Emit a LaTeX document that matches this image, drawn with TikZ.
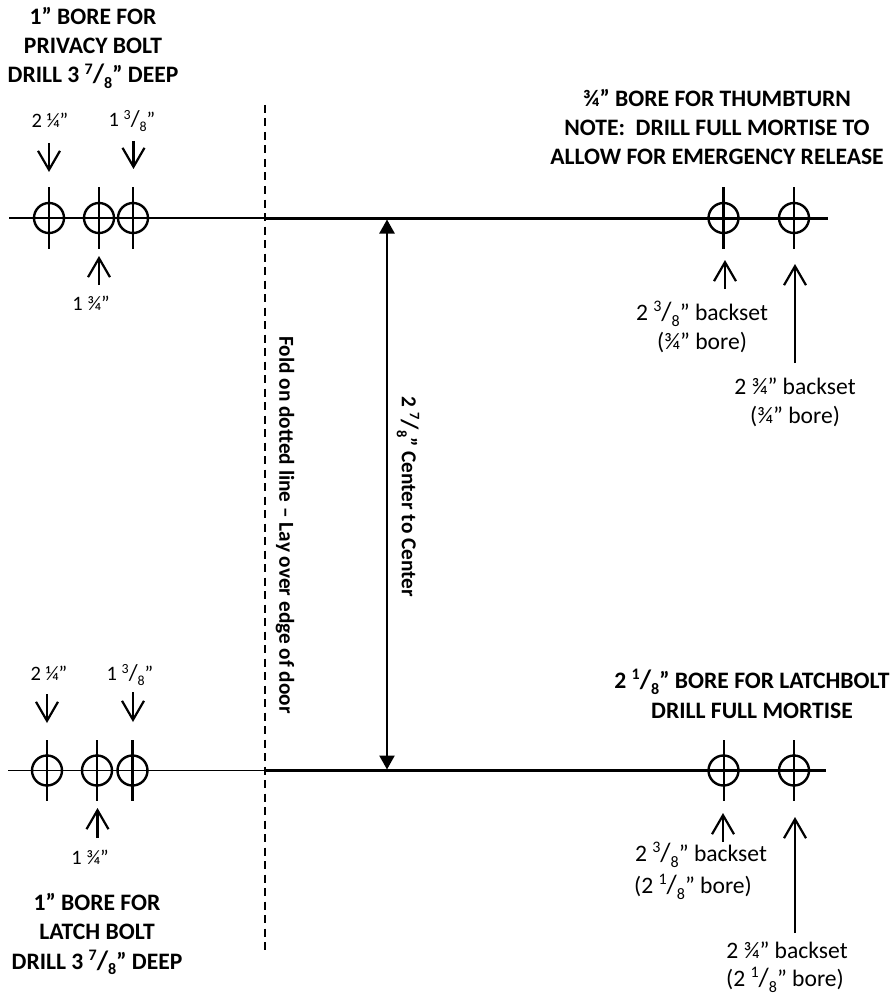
\documentclass[tikz,border=0pt]{standalone}
\usepackage{fontspec}
\usepackage{graphicx}
\setmainfont{Carlito}
\usetikzlibrary{arrows.meta}
\newcommand{\fr}[2]{\raisebox{.38em}{\scalebox{.68}{#1}}\scalebox{1.12}{/}\raisebox{-.24em}{\scalebox{.68}{#2}}}
\newcommand{\q}{\char"201D\relax}
\tikzset{
  x=1pt,y=-1pt,
  head/.style={font=\fontsize{23.6}{29.3}\selectfont\bfseries,align=center,inner sep=0pt,text=black},
  lab/.style={font=\fontsize{23.6}{29.3}\selectfont,align=center,inner sep=0pt,text=black},
  smalllab/.style={font=\fontsize{20.5}{24}\selectfont,align=center,inner sep=0pt,text=black},
  rot/.style={font=\fontsize{21.3}{26}\selectfont\bfseries,inner sep=0pt,rotate=-90},
  bore/.style={circle,draw=black,line width=2.4pt,minimum size=30pt,inner sep=0pt},
  barb/.style={line width=2.2pt,-{Straight Barb[length=19pt,width=22pt,line width=2.2pt]}},
  thinrule/.style={line width=1.8pt},
  thickrule/.style={line width=3pt},
  fold/.style={line width=2.4pt,dash pattern=on 8pt off 5.5pt},
  span/.style={line width=2.4pt,{Triangle[length=14pt,width=15pt]}-{Triangle[length=14pt,width=15pt]}}
}
\begin{document}
\begin{tikzpicture}
\useasboundingbox (0,0) rectangle (893,995);
% rule ends
\coordinate (tl) at (9,218); \coordinate (tf) at (265,218); \coordinate (tr) at (828,218);
\coordinate (bl) at (8,770.5); \coordinate (bf) at (265,770.5); \coordinate (br) at (826,770.5);
\coordinate (ftop) at (265,105); \coordinate (fbot) at (265,952);
\draw[thinrule] (tl) -- (tf);
\draw[thickrule] (tf) -- (tr);
\draw[thinrule] (bl) -- (bf);
\draw[thickrule] (bf) -- (br);
\draw[fold] (ftop) -- (fbot);
\coordinate (st) at (387,219.5); \coordinate (sb) at (387,769.5);
\draw[span] (st) -- (sb);
% bores
\foreach \n/\px/\py/\w in {a/49/218/2.9pt,b/99/218/2pt,c/133/218/2pt,d/723.5/218/2.9pt,e/794/218/2pt,
                           f/47/770.5/2.9pt,g/97/770.5/2pt,h/132.5/770.5/2.9pt,i/723.5/770.5/2pt,j/794/770.5/2pt}{
  \node[bore] (\n) at (\px,\py) {};
  \draw[line width=\w] ([yshift=30.5pt]\n.center) -- ([yshift=-30.5pt]\n.center);
}
% arrows
\foreach \n/\ax/\ay/\bx/\by in {1/49/143/49/172,2/133.5/141/133.5/169,3/99/285/99/256,4/725/289/725/260,5/795/363/795/264,
                                6/47/694/47/723,7/133/692/133/722,8/97.5/838/97.5/808,9/723/842/723/813,10/795/933/795/817}{
  \coordinate (s\n) at (\ax,\ay); \coordinate (e\n) at (\bx,\by);
  \draw[barb] (s\n) -- (e\n);
}
% headings
\node[head] (h1) at (93,48) {1\q{} BORE FOR\\PRIVACY BOLT\\DRILL 3 \fr{7}{8}\q{} DEEP};
\node[head] (h2) at (717,127) {¾\q{} BORE FOR THUMBTURN\\NOTE:\ \ DRILL FULL MORTISE TO\\ALLOW FOR EMERGENCY RELEASE};
\node[head] (h3) at (752,694) {2 \fr{1}{8}\q{} BORE FOR LATCHBOLT\\DRILL FULL MORTISE};
\node[head] (h4) at (97,934) {1\q{} BORE FOR\\LATCH BOLT\\DRILL 3 \fr{7}{8}\q{} DEEP};
% dimensions, left
\node[smalllab] (l1) at (50,120) {2 ¼\q};
\node[smalllab] (l2) at (132,121) {1 \fr{3}{8}\q};
\node[smalllab] (l3) at (91,303) {1 ¾\q};
\node[smalllab] (l4) at (49,673) {2 ¼\q};
\node[smalllab] (l5) at (130,675) {1 \fr{3}{8}\q};
\node[smalllab] (l6) at (90,857) {1 ¾\q};
% dimensions, right
\node[lab] (r1) at (702,327) {2 \fr{3}{8}\q{} backset\\(¾\q{} bore)};
\node[lab] (r2) at (795,402) {2 ¾\q{} backset\\(¾\q{} bore)};
\node[lab] (r3) at (701,855) {2 \fr{3}{8}\q{} backset};
\node[lab] (r3b) at (693,887) {(2 \fr{1}{8}\q{} bore)};
\node[lab] (r4) at (787,950) {2 ¾\q{} backset};
\node[lab] (r4b) at (785,980) {(2 \fr{1}{8}\q{} bore)};
% rotated
\node[rot] (v1) at (285,525) {Fold on dotted line – Lay over edge of door};
\node[rot] (v2) at (408,497) {2 \fr{7}{8}\q{} Center to Center};
\end{tikzpicture}
\end{document}
